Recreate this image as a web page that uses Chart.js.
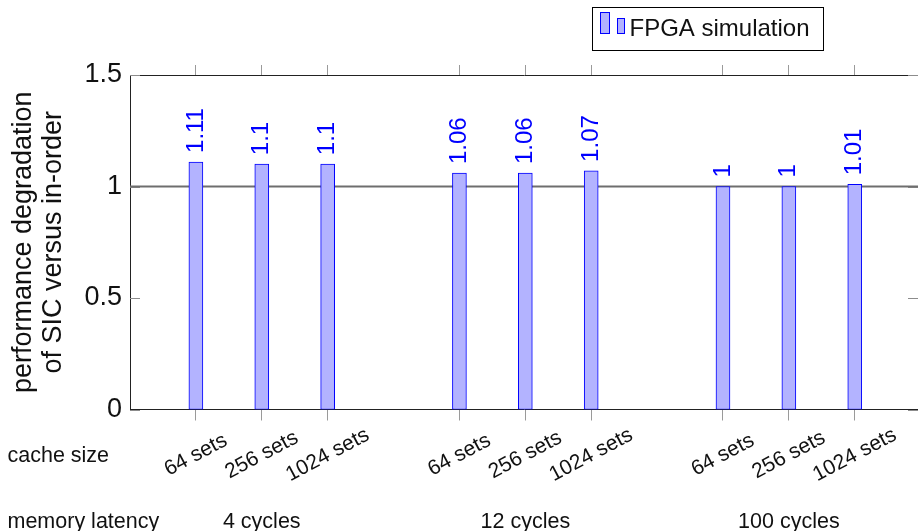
<!DOCTYPE html>
<html>
<head>
<meta charset="utf-8">
<script src="https://cdn.jsdelivr.net/npm/chart.js@4.4.1/dist/chart.umd.min.js"></script>
<style>
  html, body { margin: 0; padding: 0; background: #ffffff; overflow: hidden; }
  canvas { display: block; }
</style>
</head>
<body>
<canvas id="chart" width="918" height="531"></canvas>
<script>
// Slowdown of SIC relative to in-order, measured on the FPGA
const latencies = ['4 cycles', '12 cycles', '100 cycles'];
const cacheSizes = ['64 sets', '256 sets', '1024 sets'];
const degradation4 = [1.11, 1.1, 1.1];
const degradation12 = [1.06, 1.06, 1.07];
const degradation100 = [1, 1, 1.01];
const yTickValues = [0, 0.5, 1, 1.5];
const seriesLabel = 'FPGA simulation';
const yTitle = ['performance degradation', 'of SIC versus in-order'];
const rowHeaders = ['cache size', 'memory latency'];
const referenceLevel = 1;

const FONT = "'Liberation Sans', Arial, Helvetica, sans-serif";
const BAR_FILL = 'rgb(179,179,255)';
const BAR_EDGE = '#0000ff';

// three bars per latency group, one empty slot between groups
const groups = [degradation4, degradation12, degradation100];
const points = [];
groups.forEach((vals, g) => vals.forEach((v, i) => points.push({ x: g * 4 + i, y: v })));
const barSlots = points.map(p => p.x);

const decorations = {
  id: 'decorations',
  beforeDatasetsDraw(chart) {
    const { ctx, chartArea: a, scales: { y } } = chart;
    ctx.save();
    // inward tick marks on left and right edges
    ctx.strokeStyle = '#8c8c8c';
    ctx.lineWidth = 1;
    yTickValues.forEach(v => {
      const py = Math.round(y.getPixelForValue(v)) + 0.5;
      ctx.beginPath();
      ctx.moveTo(a.left, py); ctx.lineTo(a.left + 10, py);
      ctx.moveTo(a.right, py); ctx.lineTo(a.right - 10, py);
      ctx.stroke();
    });
    // parity line
    const ry = y.getPixelForValue(referenceLevel);
    ctx.strokeStyle = '#6e6e6e';
    ctx.lineWidth = 1.8;
    ctx.beginPath();
    ctx.moveTo(a.left, ry); ctx.lineTo(a.right, ry);
    ctx.stroke();
    ctx.restore();
  },
  afterDatasetsDraw(chart) {
    const { ctx } = chart;
    const meta = chart.getDatasetMeta(0);
    ctx.save();
    ctx.fillStyle = '#0000ff';
    ctx.font = `24px ${FONT}`;
    ctx.textAlign = 'left';
    ctx.textBaseline = 'middle';
    meta.data.forEach((bar, i) => {
      ctx.save();
      ctx.translate(bar.x, bar.y - 9);
      ctx.rotate(-Math.PI / 2);
      ctx.fillText(String(points[i].y), 0, 0);
      ctx.restore();
    });
    ctx.restore();
  },
  afterDraw(chart) {
    const { ctx, scales: { x } } = chart;
    ctx.save();
    ctx.fillStyle = '#111111';

    // cache size labels, tilted
    ctx.font = `21px ${FONT}`;
    ctx.textAlign = 'center';
    ctx.textBaseline = 'middle';
    points.forEach((p, i) => {
      ctx.save();
      ctx.translate(x.getPixelForValue(p.x), 455);
      ctx.rotate(-28 * Math.PI / 180);
      ctx.fillText(cacheSizes[i % 3], 0, 0);
      ctx.restore();
    });

    // memory latency labels under the middle bar of each group
    ctx.font = `21.5px ${FONT}`;
    ctx.textBaseline = 'alphabetic';
    latencies.forEach((lab, g) => {
      ctx.fillText(lab, x.getPixelForValue(g * 4 + 1), 528);
    });

    // row headers
    ctx.textAlign = 'left';
    ctx.fillText(rowHeaders[0], 7.5, 462);
    ctx.fillText(rowHeaders[1], 7.5, 528);

    // legend
    ctx.lineWidth = 1;
    ctx.strokeStyle = '#000000';
    ctx.fillStyle = '#ffffff';
    ctx.fillRect(592.5, 7.5, 231, 43);
    ctx.strokeRect(592.5, 7.5, 231, 43);
    ctx.fillStyle = BAR_FILL;
    ctx.strokeStyle = BAR_EDGE;
    ctx.fillRect(600.5, 12.5, 9, 21);
    ctx.strokeRect(600.5, 12.5, 9, 21);
    ctx.fillRect(617.5, 18.5, 7, 15);
    ctx.strokeRect(617.5, 18.5, 7, 15);
    ctx.fillStyle = '#111111';
    ctx.font = `24px ${FONT}`;
    ctx.fillText(chart.data.datasets[0].label, 629.5, 35.5);
    ctx.restore();
  }
};

const slotTicks = scale => { scale.ticks = barSlots.map(v => ({ value: v })); };

new Chart(document.getElementById('chart'), {
  type: 'bar',
  data: {
    datasets: [{
      label: seriesLabel,
      data: points,
      backgroundColor: BAR_FILL,
      borderColor: BAR_EDGE,
      borderWidth: 1,
      borderSkipped: false,
      barThickness: 14
    }]
  },
  options: {
    responsive: false,
    animation: false,
    devicePixelRatio: 1,
    layout: { padding: 0 },
    plugins: { legend: { display: false }, tooltip: { enabled: false } },
    scales: {
      x: {
        type: 'linear',
        position: 'bottom',
        offset: false,
        min: -1,
        max: 10.96,
        afterBuildTicks: slotTicks,
        afterFit: s => { s.height = 121.5; },
        ticks: { display: false },
        grid: { offset: false, drawOnChartArea: false, drawTicks: true, tickLength: 11, color: '#9a9a9a' },
        border: { display: true, color: '#222222', width: 1 }
      },
      xTop: {
        type: 'linear',
        position: 'top',
        offset: false,
        min: -1,
        max: 10.96,
        afterBuildTicks: slotTicks,
        afterFit: s => { s.height = 75; },
        ticks: { display: false },
        grid: { offset: false, drawOnChartArea: false, drawTicks: true, tickLength: 10, color: '#9a9a9a' },
        border: { display: true, color: '#222222', width: 1 }
      },
      y: {
        type: 'linear',
        position: 'left',
        min: 0,
        max: 1.5,
        afterBuildTicks: s => { s.ticks = yTickValues.map(v => ({ value: v })); },
        afterFit: s => { s.width = 130; },
        ticks: { font: { family: FONT, size: 27 }, color: '#111111', padding: 8, callback: v => String(v) },
        grid: { display: false, drawTicks: false },
        border: { display: true, color: '#222222', width: 1 },
        title: {
          display: true,
          text: yTitle,
          font: { family: FONT, size: 27, lineHeight: 1.1 },
          color: '#111111',
          padding: { top: 9, bottom: 0 }
        }
      }
    }
  },
  plugins: [decorations]
});
</script>
</body>
</html>
